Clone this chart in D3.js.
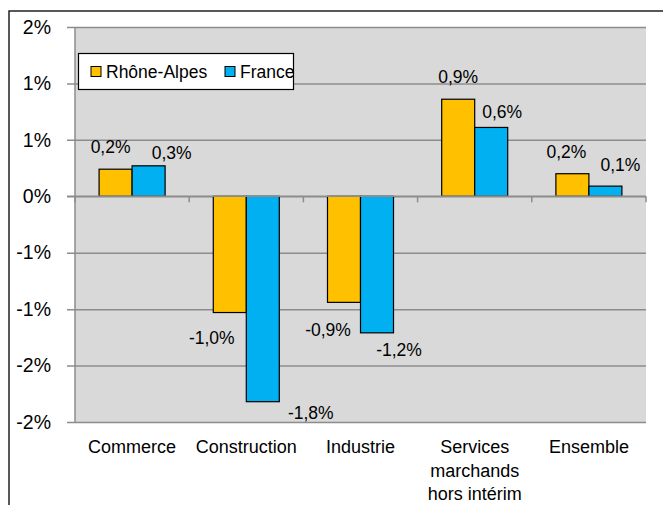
<!DOCTYPE html>
<html lang="fr">
<head>
  <meta charset="UTF-8" />
  <title>Evolution de l'emploi</title>
  <script src="https://cdn.jsdelivr.net/npm/d3@7"></script>
  <style>
    body { margin: 0; background: #fff; }
    text { font-family: "Liberation Sans", Arial, sans-serif; fill: #000; }
  </style>
</head>
<body>
<script type="text/javascript">

const WIDTH = 663;
const HEIGHT = 505;

// data (en %)
const CATEGORIES = ["Commerce", "Construction", "Industrie", "Services\nmarchands\nhors intérim", "Ensemble"];
const SERIES = ["Rhône-Alpes", "France"];
const RHONE_ALPES = [0.24, -1.03, -0.94, 0.86, 0.20];
const FRANCE = [0.27, -1.82, -1.21, 0.61, 0.09];
const TICK_VALUES = [1.5, 1, 0.5, 0, -0.5, -1, -1.5, -2];
const TICK_LABELS = ["2%", "1%", "1%", "0%", "-1%", "-1%", "-2%", "-2%"];

const COLORS = {"Rhône-Alpes": "#FFC000", "France": "#00B0F0"};
// labels were dragged by hand in the original, offsets from the bar end
const LABEL_NUDGE = {
    "Rhône-Alpes": [[-5, -22], [-18, 25], [-16, 28], [0, -22], [-6, -22]],
    "France": [[23, -13], [48, 11], [22, 17], [11, -15], [15, -21]]
};

const PLOT = {left: 75, right: 646, top: 27, bottom: 422};

const svg = d3.select("body")
    .append("svg")
        .attr("width", WIDTH)
        .attr("height", HEIGHT);

// chart frame
svg.append("path")
    .attr("d", `M9,${HEIGHT} V11 H${WIDTH}`)
    .attr("fill", "none")
    .attr("stroke", "#222")
    .attr("stroke-width", 1.5);

// plot background
svg.append("rect")
    .attr("x", PLOT.left)
    .attr("y", PLOT.top)
    .attr("width", PLOT.right - PLOT.left)
    .attr("height", PLOT.bottom - PLOT.top)
    .attr("fill", "#D9D9D9");

const yScale = d3.scaleLinear()
    .domain([-2, 1.5])
    .range([PLOT.bottom, PLOT.top]);

const xScale = d3.scaleBand()
    .domain(CATEGORIES)
    .range([PLOT.left, PLOT.right]);

const xSub = d3.scaleBand()
    .domain(SERIES)
    .range([0, xScale.bandwidth()])
    .paddingOuter(0.73);

// y axis + grid
svg.append("g")
    .attr("transform", `translate(${PLOT.left},0)`)
    .call(
        d3.axisLeft(yScale)
            .tickValues(TICK_VALUES)
            .tickFormat((d, i) => TICK_LABELS[i])
            .tickSize(8)
            .tickPadding(16)
    )
    .call(g => g.select(".domain")
        .attr("d", `M0,${PLOT.top}V${PLOT.bottom}`)
        .attr("stroke", "#8C8C8C")
        .attr("stroke-width", 1.5))
    .call(g => g.selectAll(".tick line")
        .attr("x1", -8)
        .attr("x2", PLOT.right - PLOT.left)
        .attr("stroke", "#8C8C8C")
        .attr("stroke-width", 1.5))
    .call(g => g.selectAll(".tick text")
        .attr("font-family", "Liberation Sans, Arial, sans-serif")
        .attr("font-size", "19.5px")
        .attr("fill", "#000"));

// bars
const seriesData = [
    {key: "Rhône-Alpes", values: RHONE_ALPES},
    {key: "France", values: FRANCE}
];

const groups = svg.append("g")
    .selectAll("g")
    .data(seriesData)
    .join("g")
        .attr("fill", d => COLORS[d.key]);

groups.selectAll("rect")
    .data(d => d.values.map((v, i) => ({key: d.key, cat: CATEGORIES[i], value: v})))
    .join("rect")
        .attr("x", d => xScale(d.cat) + xSub(d.key))
        .attr("y", d => yScale(Math.max(0, d.value)))
        .attr("width", xSub.bandwidth())
        .attr("height", d => Math.abs(yScale(d.value) - yScale(0)))
        .attr("stroke", "#000")
        .attr("stroke-width", 1.2);

// x axis on zero line
const xAxis = svg.append("g")
    .attr("transform", `translate(0,${yScale(0)})`);
xAxis.append("line")
    .attr("x1", PLOT.left - 8)
    .attr("x2", PLOT.right)
    .attr("stroke", "#8C8C8C")
    .attr("stroke-width", 1.5);
xAxis.selectAll(".sep")
    .data(CATEGORIES.map(c => xScale(c)).concat([PLOT.right]))
    .join("line")
        .attr("class", "sep")
        .attr("x1", d => d)
        .attr("x2", d => d)
        .attr("y1", 0)
        .attr("y2", 6)
        .attr("stroke", "#8C8C8C")
        .attr("stroke-width", 1.5);

// category labels
svg.append("g")
    .selectAll("text")
    .data(CATEGORIES)
    .join("text")
        .attr("x", d => xScale(d) + xScale.bandwidth() / 2)
        .attr("y", 453)
        .attr("text-anchor", "middle")
        .attr("font-size", "18px")
    .selectAll("tspan")
    .data(d => d.split("\n"))
    .join("tspan")
        .attr("x", function() { return this.parentNode.getAttribute("x"); })
        .attr("dy", (d, i) => i === 0 ? 0 : 23.5)
        .text(d => d);

// data labels
const fmt = v => v.toFixed(1).replace(".", ",") + "%";
groups.selectAll("text")
    .data(d => d.values.map((v, i) => ({key: d.key, cat: CATEGORIES[i], value: v, i: i})))
    .join("text")
        .attr("x", d => xScale(d.cat) + xSub(d.key) + xSub.bandwidth() / 2 + LABEL_NUDGE[d.key][d.i][0])
        .attr("y", d => yScale(d.value) + LABEL_NUDGE[d.key][d.i][1] + 6)
        .attr("text-anchor", "middle")
        .attr("font-size", "17.5px")
        .attr("fill", "#000")
        .text(d => fmt(d.value));

// legend
const legend = svg.append("g");
legend.append("rect")
    .attr("x", 78.5)
    .attr("y", 53.5)
    .attr("width", 215)
    .attr("height", 36)
    .attr("fill", "#fff")
    .attr("stroke", "#000")
    .attr("stroke-width", 1.2);
const legendItems = [
    {key: "Rhône-Alpes", x: 91},
    {key: "France", x: 225}
];
legend.selectAll("rect.sw")
    .data(legendItems)
    .join("rect")
        .attr("class", "sw")
        .attr("x", d => d.x)
        .attr("y", 66.5)
        .attr("width", 10)
        .attr("height", 10)
        .attr("fill", d => COLORS[d.key])
        .attr("stroke", "#000")
        .attr("stroke-width", 1);
legend.selectAll("text")
    .data(legendItems)
    .join("text")
        .attr("x", d => d.x + 15)
        .attr("y", 78)
        .attr("font-size", "17.5px")
        .text(d => d.key);

</script>
</body>
</html>
